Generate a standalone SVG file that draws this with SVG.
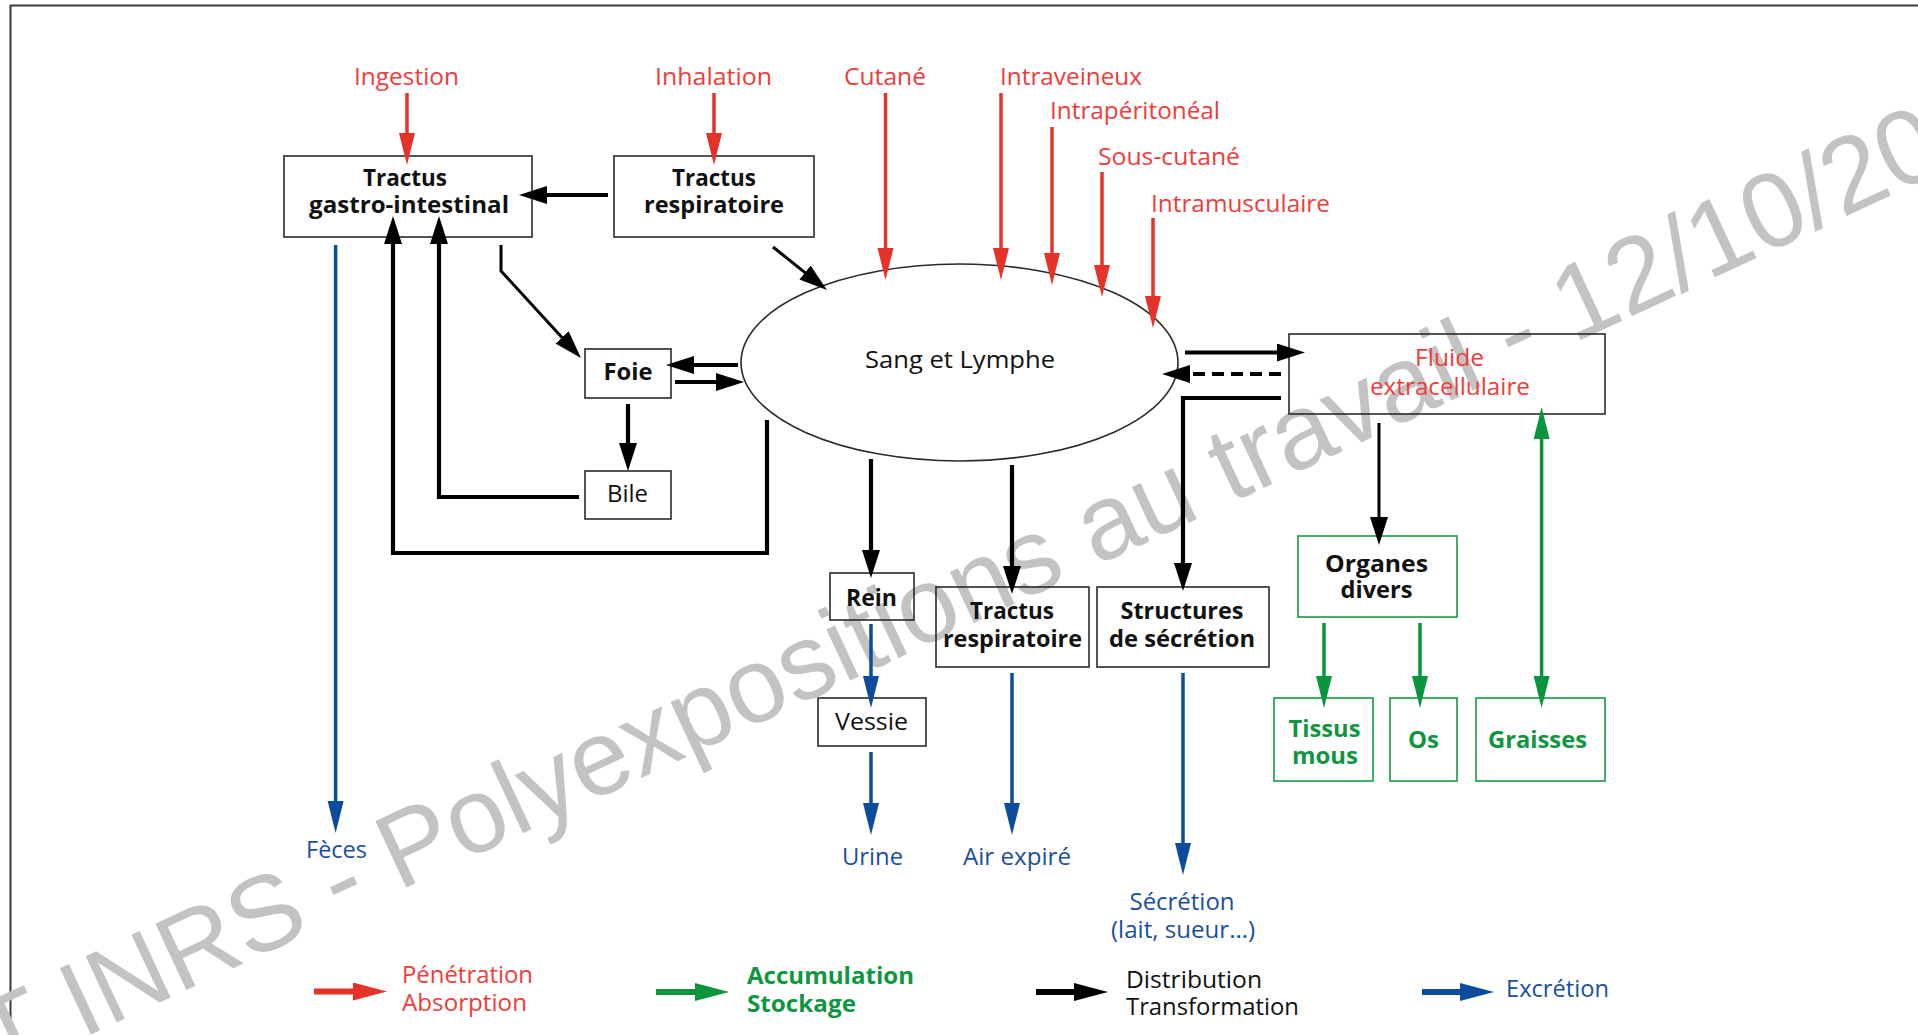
<svg xmlns="http://www.w3.org/2000/svg" width="1918" height="1035" viewBox="0 0 1918 1035">
<style>
.t{font-family:"Open Sans","Noto Sans","Liberation Sans",sans-serif;font-size:24px}
.b{font-weight:bold}
.k{fill:#111}
.r{fill:#ee3d3a}
.bl{fill:#1a4f9e}
.g{fill:#0f9640}
.box{fill:none;stroke:#2a2a2a;stroke-width:1.6}
.gbox{fill:none;stroke:#129a44;stroke-width:1.6}
.lr{fill:none;stroke:#e6332a;stroke-width:3.5}
.lb{fill:none;stroke:#0d4c9c;stroke-width:3.5}
.lg{fill:none;stroke:#0a953c;stroke-width:3.5}
.lk{fill:none;stroke:#000;stroke-width:4.2}
.lk3{fill:none;stroke:#000;stroke-width:3}
.wm{font-family:"Liberation Sans",Arial,sans-serif;font-size:106.5px;fill:#c3c3c3}
</style>
<defs>
<marker id="aR" markerUnits="userSpaceOnUse" markerWidth="34" markerHeight="18" refX="2" refY="8" orient="auto"><path d="M0,0 L32,8 L0,16 z" fill="#e6332a"/></marker>
<marker id="aB" markerUnits="userSpaceOnUse" markerWidth="34" markerHeight="18" refX="2" refY="8" orient="auto"><path d="M0,0 L32,8 L0,16 z" fill="#0d4c9c"/></marker>
<marker id="aG" markerUnits="userSpaceOnUse" markerWidth="34" markerHeight="18" refX="2" refY="8" orient="auto-start-reverse"><path d="M0,0 L32,8 L0,16 z" fill="#0a953c"/></marker>
<marker id="aK" markerUnits="userSpaceOnUse" markerWidth="30" markerHeight="20" refX="2" refY="9" orient="auto"><path d="M0,0 L28,9 L0,18 z" fill="#000"/></marker>
<marker id="lR" markerUnits="userSpaceOnUse" markerWidth="36" markerHeight="20" refX="2" refY="9" orient="auto"><path d="M0,0 L34,9 L0,18 z" fill="#e6332a"/></marker>
<marker id="lG" markerUnits="userSpaceOnUse" markerWidth="36" markerHeight="20" refX="2" refY="9" orient="auto"><path d="M0,0 L34,9 L0,18 z" fill="#0a953c"/></marker>
<marker id="lK" markerUnits="userSpaceOnUse" markerWidth="36" markerHeight="20" refX="2" refY="9" orient="auto"><path d="M0,0 L34,9 L0,18 z" fill="#000"/></marker>
<marker id="lB" markerUnits="userSpaceOnUse" markerWidth="36" markerHeight="20" refX="2" refY="9" orient="auto"><path d="M0,0 L34,9 L0,18 z" fill="#0d4c9c"/></marker>
</defs>
<rect width="1918" height="1035" fill="#fff"/>
<path d="M10.5,1035 V5.5 H1918" fill="none" stroke="#3a3a3a" stroke-width="2"/>

<text class="wm" transform="translate(-2,1078) rotate(-25)">T INRS - Polyexpositions au travail - 12/10/20</text>

<g id="labels-entree">
<text class="t r" x="406.5" y="85" text-anchor="middle" textLength="105" lengthAdjust="spacingAndGlyphs">Ingestion</text>
<text class="t r" x="713.5" y="85" text-anchor="middle" textLength="117" lengthAdjust="spacingAndGlyphs">Inhalation</text>
<text class="t r" x="885" y="85" text-anchor="middle" textLength="82" lengthAdjust="spacingAndGlyphs">Cutané</text>
<text class="t r" x="1071" y="85" text-anchor="middle" textLength="142" lengthAdjust="spacingAndGlyphs">Intraveineux</text>
<text class="t r" x="1135" y="119" text-anchor="middle" textLength="170" lengthAdjust="spacingAndGlyphs">Intrapéritonéal</text>
<text class="t r" x="1169" y="165" text-anchor="middle" textLength="142" lengthAdjust="spacingAndGlyphs">Sous-cutané</text>
<text class="t r" x="1240.5" y="212" text-anchor="middle" textLength="179" lengthAdjust="spacingAndGlyphs">Intramusculaire</text>
</g>

<g id="tractus-gi">
<rect class="box" x="284" y="156" width="248" height="81"/>
<text class="t b k" x="405" y="186" text-anchor="middle" textLength="84" lengthAdjust="spacingAndGlyphs">Tractus</text>
<text class="t b k" x="409" y="213" text-anchor="middle" textLength="200" lengthAdjust="spacingAndGlyphs">gastro-intestinal</text>
</g>
<g id="tractus-resp-haut">
<rect class="box" x="614" y="156" width="200" height="81"/>
<text class="t b k" x="714" y="186" text-anchor="middle" textLength="84" lengthAdjust="spacingAndGlyphs">Tractus</text>
<text class="t b k" x="714" y="213" text-anchor="middle" textLength="140" lengthAdjust="spacingAndGlyphs">respiratoire</text>
</g>
<g id="foie">
<rect class="box" x="585" y="349" width="86" height="49"/>
<text class="t b k" x="628" y="380" text-anchor="middle" textLength="49" lengthAdjust="spacingAndGlyphs">Foie</text>
</g>
<g id="bile">
<rect class="box" x="585" y="471" width="86" height="48"/>
<text class="t k" x="627.5" y="502" text-anchor="middle" textLength="41" lengthAdjust="spacingAndGlyphs">Bile</text>
</g>
<g id="sang">
<ellipse cx="959.5" cy="362.5" rx="218.5" ry="98.5" fill="none" stroke="#2a2a2a" stroke-width="1.6"/>
<text class="t k" x="960" y="368" text-anchor="middle" font-size="25" textLength="190" lengthAdjust="spacingAndGlyphs">Sang et Lymphe</text>
</g>
<g id="fluide">
<rect class="box" x="1289" y="334" width="316" height="80"/>
<text class="t r" x="1449.5" y="366" text-anchor="middle" textLength="69" lengthAdjust="spacingAndGlyphs">Fluide</text>
<text class="t r" x="1450" y="395" text-anchor="middle" textLength="160" lengthAdjust="spacingAndGlyphs">extracellulaire</text>
</g>
<g id="rein">
<rect class="box" x="830" y="573" width="84" height="47"/>
<text class="t b k" x="871.5" y="606" text-anchor="middle" textLength="51" lengthAdjust="spacingAndGlyphs">Rein</text>
</g>
<g id="vessie">
<rect class="box" x="818" y="698" width="108" height="48"/>
<text class="t k" x="871.5" y="730" text-anchor="middle" textLength="73" lengthAdjust="spacingAndGlyphs">Vessie</text>
</g>
<g id="tractus-resp-bas">
<rect class="box" x="936" y="587" width="153" height="80"/>
<text class="t b k" x="1012" y="619" text-anchor="middle" textLength="84" lengthAdjust="spacingAndGlyphs">Tractus</text>
<text class="t b k" x="1012.5" y="647" text-anchor="middle" textLength="139" lengthAdjust="spacingAndGlyphs">respiratoire</text>
</g>
<g id="structures">
<rect class="box" x="1097" y="587" width="172" height="80"/>
<text class="t b k" x="1182" y="619" text-anchor="middle" textLength="123" lengthAdjust="spacingAndGlyphs">Structures</text>
<text class="t b k" x="1182" y="647" text-anchor="middle" textLength="146" lengthAdjust="spacingAndGlyphs">de sécrétion</text>
</g>
<g id="organes">
<rect class="gbox" x="1298" y="536" width="159" height="81"/>
<text class="t b k" x="1376.5" y="572" text-anchor="middle" textLength="103" lengthAdjust="spacingAndGlyphs">Organes</text>
<text class="t b k" x="1376.5" y="598" text-anchor="middle" textLength="72" lengthAdjust="spacingAndGlyphs">divers</text>
</g>
<g id="tissus">
<rect class="gbox" x="1274" y="698" width="99" height="83"/>
<text class="t b g" x="1324.5" y="737" text-anchor="middle" textLength="72" lengthAdjust="spacingAndGlyphs">Tissus</text>
<text class="t b g" x="1325" y="764" text-anchor="middle" textLength="66" lengthAdjust="spacingAndGlyphs">mous</text>
</g>
<g id="os">
<rect class="gbox" x="1390" y="698" width="67" height="83"/>
<text class="t b g" x="1423.5" y="748" text-anchor="middle" textLength="31" lengthAdjust="spacingAndGlyphs">Os</text>
</g>
<g id="graisses">
<rect class="gbox" x="1476" y="698" width="129" height="83"/>
<text class="t b g" x="1537.5" y="748" text-anchor="middle" textLength="99" lengthAdjust="spacingAndGlyphs">Graisses</text>
</g>

<g id="sorties">
<text class="t bl" x="336.5" y="858" text-anchor="middle" textLength="61" lengthAdjust="spacingAndGlyphs">Fèces</text>
<text class="t bl" x="872.5" y="865" text-anchor="middle" textLength="61" lengthAdjust="spacingAndGlyphs">Urine</text>
<text class="t bl" x="1017" y="865" text-anchor="middle" textLength="108" lengthAdjust="spacingAndGlyphs">Air expiré</text>
<text class="t bl" x="1182" y="910" text-anchor="middle" textLength="105" lengthAdjust="spacingAndGlyphs">Sécrétion</text>
<text class="t bl" x="1183" y="938" text-anchor="middle" textLength="144" lengthAdjust="spacingAndGlyphs">(lait, sueur…)</text>
</g>

<g id="connecteurs">
<path class="lr" d="M407,93 V135" marker-end="url(#aR)"/>
<path class="lr" d="M714,93 V135" marker-end="url(#aR)"/>
<path class="lr" d="M885.5,93 V250" marker-end="url(#aR)"/>
<path class="lr" d="M1001,93 V250" marker-end="url(#aR)"/>
<path class="lr" d="M1052,127 V255" marker-end="url(#aR)"/>
<path class="lr" d="M1102,172 V267" marker-end="url(#aR)"/>
<path class="lr" d="M1153,218 V298" marker-end="url(#aR)"/>

<path class="lk" d="M608,195 H545" marker-end="url(#aK)"/>
<path class="lk" d="M767,420 V553 H393 V242" marker-end="url(#aK)"/>
<path class="lk" d="M579,497 H439 V242" marker-end="url(#aK)"/>
<path class="lk3" d="M501,245 V271 L563.4,338.9" marker-end="url(#aK)"/>
<path class="lk3" d="M773,247 L806.6,273.8" marker-end="url(#aK)"/>
<path class="lk" d="M738,365 H692" marker-end="url(#aK)"/>
<path class="lk" d="M675,382 H718" marker-end="url(#aK)"/>
<path class="lk" d="M628,404 V445" marker-end="url(#aK)"/>
<path class="lk" d="M871,459 V552" marker-end="url(#aK)"/>
<path class="lk" d="M1012,465 V568" marker-end="url(#aK)"/>
<path class="lk" d="M1281,398 H1183 V565" marker-end="url(#aK)"/>
<path class="lk" d="M1185,352.5 H1279" marker-end="url(#aK)"/>
<path class="lk" d="M1281,374 H1188" stroke-dasharray="12,7" marker-end="url(#aK)"/>
<path class="lk3" d="M1379,423 V519" marker-end="url(#aK)"/>

<path class="lb" d="M335.6,245 V803" marker-end="url(#aB)"/>
<path class="lb" d="M871,624 V678" marker-end="url(#aB)"/>
<path class="lb" d="M871,752 V805" marker-end="url(#aB)"/>
<path class="lb" d="M1012,673 V805" marker-end="url(#aB)"/>
<path class="lb" d="M1183,673 V845" marker-end="url(#aB)"/>

<path class="lg" d="M1324,623 V678" marker-end="url(#aG)"/>
<path class="lg" d="M1420,623 V678" marker-end="url(#aG)"/>
<path class="lg" d="M1541.6,437 V678" marker-start="url(#aG)" marker-end="url(#aG)"/>
</g>

<g id="legende">
<path d="M314,991.5 H355" stroke="#e6332a" stroke-width="6" marker-end="url(#lR)"/>
<text class="t r" x="402" y="983" textLength="131" lengthAdjust="spacingAndGlyphs">Pénétration</text>
<text class="t r" x="402" y="1011" textLength="125" lengthAdjust="spacingAndGlyphs">Absorption</text>
<path d="M656,992 H697" stroke="#0a953c" stroke-width="6" marker-end="url(#lG)"/>
<text class="t b g" x="747" y="984" textLength="167" lengthAdjust="spacingAndGlyphs">Accumulation</text>
<text class="t b g" x="747" y="1012" textLength="109" lengthAdjust="spacingAndGlyphs">Stockage</text>
<path d="M1036,992 H1076" stroke="#000" stroke-width="6" marker-end="url(#lK)"/>
<text class="t k" x="1126" y="988" textLength="136" lengthAdjust="spacingAndGlyphs">Distribution</text>
<text class="t k" x="1126" y="1015" textLength="173" lengthAdjust="spacingAndGlyphs">Transformation</text>
<path d="M1422,992 H1462" stroke="#0d4c9c" stroke-width="6" marker-end="url(#lB)"/>
<text class="t bl" x="1506" y="997" textLength="103" lengthAdjust="spacingAndGlyphs">Excrétion</text>
</g>
</svg>
